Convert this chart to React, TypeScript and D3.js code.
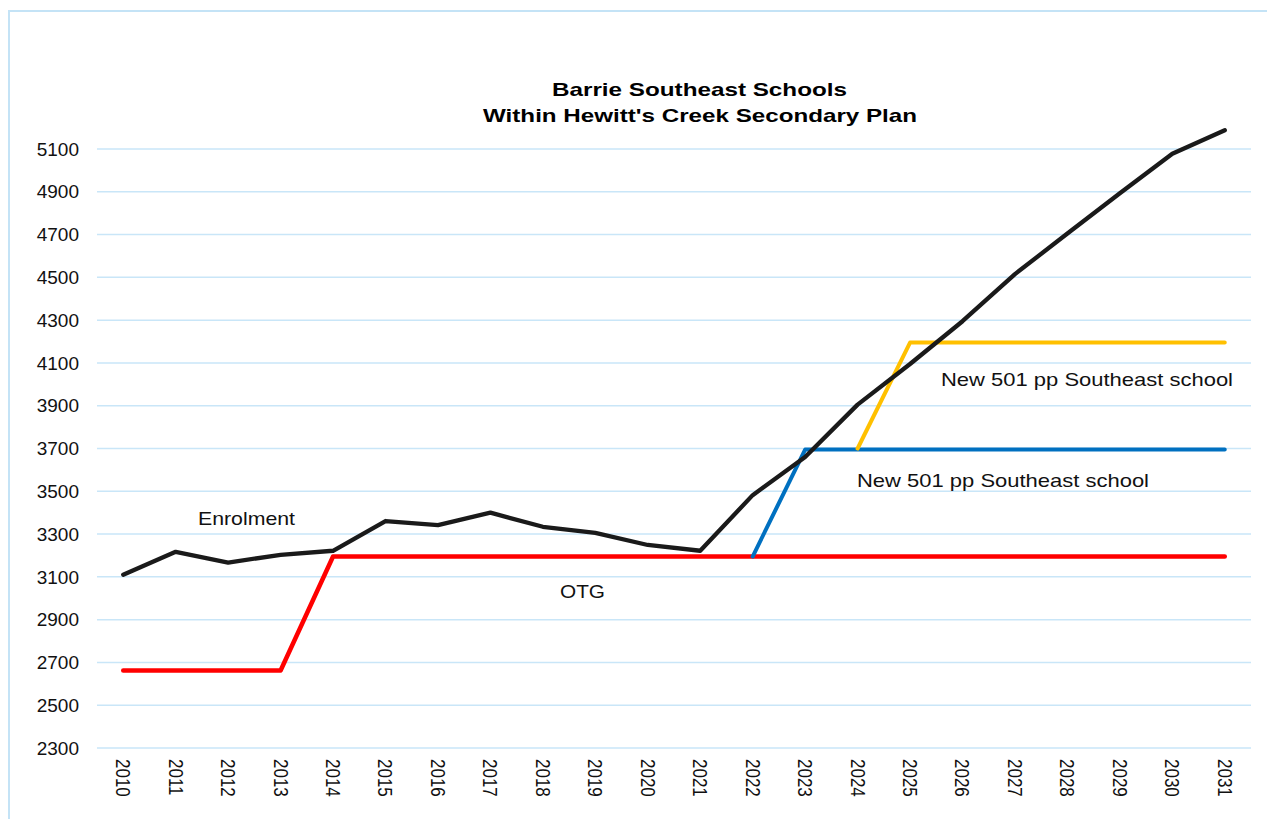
import React from 'react';
import * as d3 from 'd3';

const years = ['2010','2011','2012','2013','2014','2015','2016','2017','2018','2019','2020','2021','2022','2023','2024','2025','2026','2027','2028','2029','2030','2031'];
const enrolment = [3110, 3217, 3167, 3203, 3222, 3361, 3342, 3400, 3334, 3306, 3249, 3222, 3482, 3660, 3905, 4095, 4295, 4515, 4705, 4893, 5078, 5188];
const otg = [2662, 2662, 2662, 2662, 3195, 3195, 3195, 3195, 3195, 3195, 3195, 3195, 3195, 3195, 3195, 3195, 3195, 3195, 3195, 3195, 3195, 3195];
const blueYears = ['2022','2023','2024','2025','2026','2027','2028','2029','2030','2031'];
const blueValues = [3195, 3695, 3695, 3695, 3695, 3695, 3695, 3695, 3695, 3695];
const yellowYears = ['2024','2025','2026','2027','2028','2029','2030','2031'];
const yellowValues = [3700, 4195, 4195, 4195, 4195, 4195, 4195, 4195];
const yTicks = [2300, 2500, 2700, 2900, 3100, 3300, 3500, 3700, 3900, 4100, 4300, 4500, 4700, 4900, 5100];

const W = 1267;
const H = 819;
const left = 97;
const right = 1251;
const top = 149;
const bottom = 748;
const font = 'Liberation Sans, Arial, sans-serif';
const grid = '#c9e6f8';

const App: React.FC = () => {
  const x = d3.scaleBand<string>().domain(years).range([left, right]);
  const cx = (d: string) => (x(d) || 0) + x.bandwidth() / 2;
  const y = d3.scaleLinear().domain([2300, 5100]).range([bottom, top]);

  const line = d3.line<[string, number]>()
    .x(d => cx(d[0]))
    .y(d => y(d[1]));

  // draw order: OTG first, enrolment on top
  const series = [
    { data: years.map((d, i) => [d, otg[i]] as [string, number]), color: '#ff0000', w: 4.5 },
    { data: blueYears.map((d, i) => [d, blueValues[i]] as [string, number]), color: '#0070c0', w: 4 },
    { data: yellowYears.map((d, i) => [d, yellowValues[i]] as [string, number]), color: '#ffc000', w: 4 },
    { data: years.map((d, i) => [d, enrolment[i]] as [string, number]), color: '#1a1a1a', w: 4.3 },
  ];

  return (
    <svg width={W} height={H} style={{ position: 'absolute', left: 0, top: 0, background: '#fff' }}>
      <rect x={9} y={11} width={W + 10} height={H + 10} fill="#fff" stroke="#c4e3f6" strokeWidth={2} />

      {yTicks.map(t => (
        <g key={t}>
          <line x1={left} x2={right} y1={y(t)} y2={y(t)} stroke={grid} strokeWidth={1.5} />
          <text x={79} y={y(t)} dy="0.35em" textAnchor="end" fontFamily={font} fontSize={19} fill="#111">{t}</text>
        </g>
      ))}

      {years.map(d => (
        <text key={d} transform={`translate(${cx(d)},759) rotate(90) scale(1,1.2)`} dominantBaseline="central"
          fontFamily={font} fontSize={17} fill="#111">{d}</text>
      ))}

      {series.map((s, i) => (
        <path key={i} d={line(s.data) || ''} fill="none" stroke={s.color} strokeWidth={s.w}
          strokeLinejoin="round" strokeLinecap="round" />
      ))}

      <text x={552} y={96} fontFamily={font} fontWeight="bold" fontSize={18.6} textLength={295}
        lengthAdjust="spacingAndGlyphs" fill="#000">Barrie Southeast Schools</text>
      <text x={483} y={121.5} fontFamily={font} fontWeight="bold" fontSize={18.6} textLength={434}
        lengthAdjust="spacingAndGlyphs" fill="#000">Within Hewitt's Creek Secondary Plan</text>

      <text x={198} y={525} fontFamily={font} fontSize={18.6} textLength={97} lengthAdjust="spacingAndGlyphs" fill="#111">Enrolment</text>
      <text x={560} y={597.5} fontFamily={font} fontSize={18.6} textLength={45} lengthAdjust="spacingAndGlyphs" fill="#111">OTG</text>
      <text x={941} y={386} fontFamily={font} fontSize={18.6} textLength={292} lengthAdjust="spacingAndGlyphs" fill="#111">New 501 pp Southeast school</text>
      <text x={857} y={487} fontFamily={font} fontSize={18.6} textLength={292} lengthAdjust="spacingAndGlyphs" fill="#111">New 501 pp Southeast school</text>
    </svg>
  );
};

export default App;
